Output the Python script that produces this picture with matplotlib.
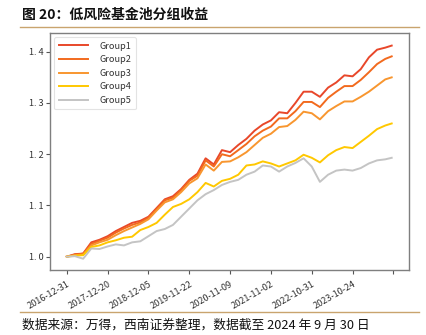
import matplotlib
matplotlib.use("Agg")
import matplotlib.pyplot as plt
from matplotlib.lines import Line2D

plt.rcParams['font.family'] = ['Noto Sans CJK SC', 'DejaVu Sans']

# trading-day index of each observation
day = [0, 48, 96, 144, 192, 240, 288, 336, 384, 432, 480, 528, 576, 624, 672,
       720, 768, 816, 864, 912, 960, 1008, 1056, 1104, 1152, 1200, 1248, 1296,
       1344, 1392, 1440, 1488, 1536, 1584, 1632, 1680, 1728, 1776, 1824, 1872, 1910]

group1 = [1.000, 1.005, 1.006, 1.028, 1.033, 1.040, 1.050, 1.058, 1.066, 1.070,
          1.078, 1.095, 1.112, 1.118, 1.132, 1.150, 1.162, 1.192, 1.180, 1.208,
          1.204, 1.218, 1.230, 1.246, 1.258, 1.266, 1.282, 1.280, 1.300, 1.322,
          1.322, 1.312, 1.330, 1.340, 1.354, 1.352, 1.366, 1.389, 1.404, 1.408, 1.412]
group2 = [1.000, 1.004, 1.006, 1.025, 1.031, 1.037, 1.047, 1.055, 1.062, 1.067,
          1.076, 1.093, 1.110, 1.115, 1.130, 1.148, 1.158, 1.188, 1.176, 1.200,
          1.196, 1.208, 1.220, 1.235, 1.246, 1.254, 1.270, 1.270, 1.284, 1.302,
          1.302, 1.292, 1.310, 1.322, 1.333, 1.333, 1.345, 1.360, 1.376, 1.386, 1.391]
group3 = [1.000, 1.003, 1.004, 1.022, 1.028, 1.033, 1.042, 1.050, 1.057, 1.064,
          1.073, 1.090, 1.106, 1.112, 1.126, 1.143, 1.153, 1.180, 1.168, 1.185,
          1.186, 1.194, 1.204, 1.218, 1.232, 1.240, 1.253, 1.255, 1.267, 1.283,
          1.280, 1.268, 1.284, 1.294, 1.303, 1.303, 1.312, 1.322, 1.334, 1.346, 1.350]
group4 = [1.000, 1.002, 1.003, 1.019, 1.022, 1.028, 1.032, 1.037, 1.039, 1.052,
          1.058, 1.066, 1.082, 1.097, 1.103, 1.112, 1.126, 1.144, 1.137, 1.148,
          1.152, 1.160, 1.178, 1.180, 1.186, 1.182, 1.176, 1.182, 1.188, 1.199,
          1.193, 1.184, 1.198, 1.208, 1.214, 1.212, 1.224, 1.236, 1.249, 1.256, 1.260]
group5 = [1.000, 1.001, 0.996, 1.016, 1.015, 1.020, 1.024, 1.022, 1.028, 1.030,
          1.040, 1.050, 1.054, 1.062, 1.078, 1.094, 1.110, 1.122, 1.130, 1.140,
          1.146, 1.150, 1.160, 1.166, 1.178, 1.176, 1.166, 1.176, 1.183, 1.192,
          1.176, 1.146, 1.160, 1.168, 1.170, 1.168, 1.173, 1.182, 1.188, 1.190, 1.193]

series_names = ["Group1", "Group2", "Group3", "Group4", "Group5"]
series_colors = ["#E8472A", "#F26A1E", "#F8962F", "#FFC800", "#C4C4C4"]

tick_days = [0, 240, 480, 720, 960, 1200, 1440, 1680, 1920]
tick_labels = ["2016-12-31", "2017-12-20", "2018-12-05", "2019-11-22",
               "2020-11-09", "2021-11-02", "2022-10-31", "2023-10-24", ""]
y_ticks = [1.0, 1.1, 1.2, 1.3, 1.4]

fig = plt.figure(figsize=(4.26, 3.35), dpi=100)
ax = fig.add_axes([0.1185, 0.194, 0.8405, 0.7066])

for vals, name, col in zip([group1, group2, group3, group4, group5], series_names, series_colors):
    ax.plot(day, vals, color=col, lw=1.4, label=name)

ax.set_xlim(-96, 2009)
ax.set_ylim(0.974, 1.436)
ax.set_xticks(tick_days)
ax.set_xticklabels(tick_labels, rotation=30, ha="right", rotation_mode="anchor",
                   fontsize=6.6, color="#333333")
ax.set_yticks(y_ticks)
ax.set_yticklabels(["1. 0", "1. 1", "1. 2", "1. 3", "1. 4"], fontsize=6.6, color="#333333")
ax.tick_params(axis="both", direction="out", length=3, width=0.8, color="#555555", pad=2)
ax.tick_params(axis="x", pad=4)
for s in ax.spines.values():
    s.set_color("#7F7F7F")
    s.set_linewidth(1.0)

leg = ax.legend(loc="upper left", fontsize=6.6, frameon=True, handlelength=3.2,
                borderpad=0.5, labelspacing=0.5, handletextpad=1.2,
                borderaxespad=0.4, fancybox=True)
leg.get_frame().set_edgecolor("#DDDDDD")
leg.get_frame().set_linewidth(0.8)
for t in leg.get_texts():
    t.set_color("#333333")

fig.text(0.052, 0.955, "图 20：低风险基金池分组收益", fontsize=10, fontweight="bold",
         va="center", ha="left", color="#111111")
fig.add_artist(Line2D([0.047, 0.984], [0.918, 0.918], color="#C9A46E", lw=1.0))
fig.add_artist(Line2D([0.047, 0.984], [0.069, 0.069], color="#C9A46E", lw=1.0))
fig.text(0.052, 0.030, "数据来源：万得，西南证券整理，数据截至 2024 年 9 月 30 日",
         fontsize=9.2, fontstyle="italic", va="center", ha="left", color="#111111")

fig.savefig("out.png", dpi=100)
